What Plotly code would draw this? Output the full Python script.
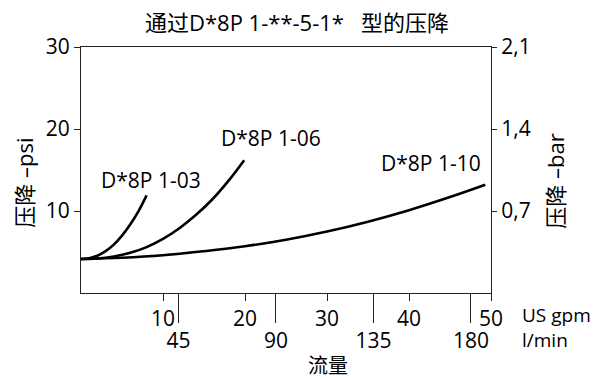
import plotly.graph_objects as go

# ---- data ----
flow_03 = [0, 1, 2, 3, 4, 5, 6, 7, 8.0]
dp_03 = [4.15, 4.25, 4.55, 5.1, 5.9, 7.0, 8.35, 9.95, 11.9]

flow_06 = [0, 2, 4, 6, 8, 10, 12, 14, 16, 18, 19.9]
dp_06 = [4.15, 4.2, 4.45, 4.9, 5.6, 6.6, 7.9, 9.5, 11.4, 13.7, 16.2]

flow_10 = [0, 5, 10, 15, 20, 25, 30, 35, 40, 45, 49.3]
dp_10 = [4.15, 4.3, 4.6, 5.1, 5.7, 6.5, 7.5, 8.7, 10.1, 11.7, 13.2]

series_names = ["D*8P 1-03", "D*8P 1-06", "D*8P 1-10"]

gpm_ticks = [10, 20, 30, 40, 50]
lmin_ticks = [45, 90, 135, 180]
psi_ticks = [10, 20, 30]
bar_ticks = [0.7, 1.4, 2.1]
bar_labels = ["0,7", "1,4", "2,1"]

GPM_TO_LMIN = 3.785
GPM_MAX = 50
PSI_MAX = 30
BAR_MAX = 2.1

# page body has an 8px margin; lay out in window pixels and compensate
OFF = 8
WIN_W, WIN_H = 601, 379
W, H = WIN_W - OFF, WIN_H - OFF
X0, X1, Y0, Y1 = 81, 491, 47, 293.5   # plot box in window pixels
L, R, T, B = X0 - OFF, W - (X1 - OFF), Y0 - OFF, H - (Y1 - OFF)
pw, ph = X1 - X0, Y1 - Y0

def px(x):
    return (x - X0) / pw

def py(y):
    return (Y1 - y) / ph

FONT = "Open Sans, Noto Sans CJK SC, sans-serif"
CJK = "Noto Sans CJK SC, sans-serif"
INK = "#000000"
AX = "#222222"
TS = 21

fig = go.Figure()
for fx, fy in [(flow_03, dp_03), (flow_06, dp_06), (flow_10, dp_10)]:
    fig.add_trace(go.Scatter(x=fx, y=fy, mode="lines", line=dict(color="#000000", width=2.6, shape="spline"),
                             showlegend=False, hoverinfo="skip"))

# invisible traces to activate secondary axes
fig.add_trace(go.Scatter(x=[0, GPM_MAX * GPM_TO_LMIN], y=[0, 0], xaxis="x2", yaxis="y", mode="lines",
                         line=dict(width=0), opacity=0, showlegend=False, hoverinfo="skip"))
fig.add_trace(go.Scatter(x=[0, GPM_MAX], y=[0, BAR_MAX], xaxis="x", yaxis="y2", mode="lines",
                         line=dict(width=0), opacity=0, showlegend=False, hoverinfo="skip"))

fig.update_layout(
    width=W, height=H,
    margin=dict(l=L, r=R, t=T, b=B),
    plot_bgcolor="white", paper_bgcolor="white",
    font=dict(family=FONT, size=TS, color=INK),
    xaxis=dict(range=[0, GPM_MAX], tickvals=gpm_ticks, ticks="outside", ticklen=7, tickwidth=1,
               tickcolor=AX, showline=True, linecolor=AX, linewidth=1.2, mirror=True,
               showgrid=False, zeroline=False, tickfont=dict(size=TS, color=INK)),
    xaxis2=dict(range=[0, GPM_MAX * GPM_TO_LMIN], overlaying="x", side="bottom", anchor="y",
                tickvals=lmin_ticks, ticks="outside", ticklen=29, tickwidth=1, tickcolor=AX,
                showline=False, showgrid=False, zeroline=False, tickfont=dict(size=TS, color=INK)),
    yaxis=dict(range=[0, PSI_MAX], tickvals=psi_ticks, ticks="outside", ticklen=6, tickwidth=1,
               tickcolor=AX, showline=True, linecolor=AX, linewidth=1.2, showgrid=False, zeroline=False,
               tickfont=dict(size=TS, color=INK)),
    yaxis2=dict(range=[0, BAR_MAX], overlaying="y", side="right", anchor="x", tickvals=bar_ticks,
                ticktext=bar_labels, ticks="outside", ticklen=5, tickwidth=1, tickcolor=AX,
                showline=True, linecolor=AX, linewidth=1.2, showgrid=False, zeroline=False,
                tickfont=dict(size=TS, color=INK)),
)

ann = []
ann.append(dict(text="通过D*8P 1-**-5-1*   型的压降", xref="paper", yref="paper", x=px(297), y=py(22),
                showarrow=False, font=dict(size=22, family=FONT, color=INK), xanchor="center", yanchor="middle"))
ann.append(dict(text="压降 –psi", xref="paper", yref="paper", x=px(24), y=py(183), textangle=-90,
                showarrow=False, font=dict(size=22, family=FONT, color=INK), xanchor="center", yanchor="middle"))
ann.append(dict(text="压降 –bar", xref="paper", yref="paper", x=px(555), y=py(182), textangle=-90,
                showarrow=False, font=dict(size=22, family=FONT, color=INK), xanchor="center", yanchor="middle"))
ann.append(dict(text="US gpm", xref="paper", yref="paper", x=px(520), y=py(316), xanchor="left",
                yanchor="middle", showarrow=False, font=dict(size=19, color=INK)))
ann.append(dict(text="l/min", xref="paper", yref="paper", x=px(520), y=py(341), xanchor="left",
                yanchor="middle", showarrow=False, font=dict(size=19, color=INK)))
ann.append(dict(text="流量", xref="paper", yref="paper", x=px(328), y=py(365), xanchor="center",
                yanchor="middle", showarrow=False, font=dict(size=20, family=CJK, color=INK)))

label_pos = [(151, 180), (271, 138), (431, 163)]
for name, (lx, ly) in zip(series_names, label_pos):
    ann.append(dict(text=name, xref="paper", yref="paper", x=px(lx), y=py(ly), xanchor="center",
                    yanchor="middle", showarrow=False, font=dict(size=TS, color=INK)))

fig.update_layout(annotations=ann)
fig.write_html("out.html")
